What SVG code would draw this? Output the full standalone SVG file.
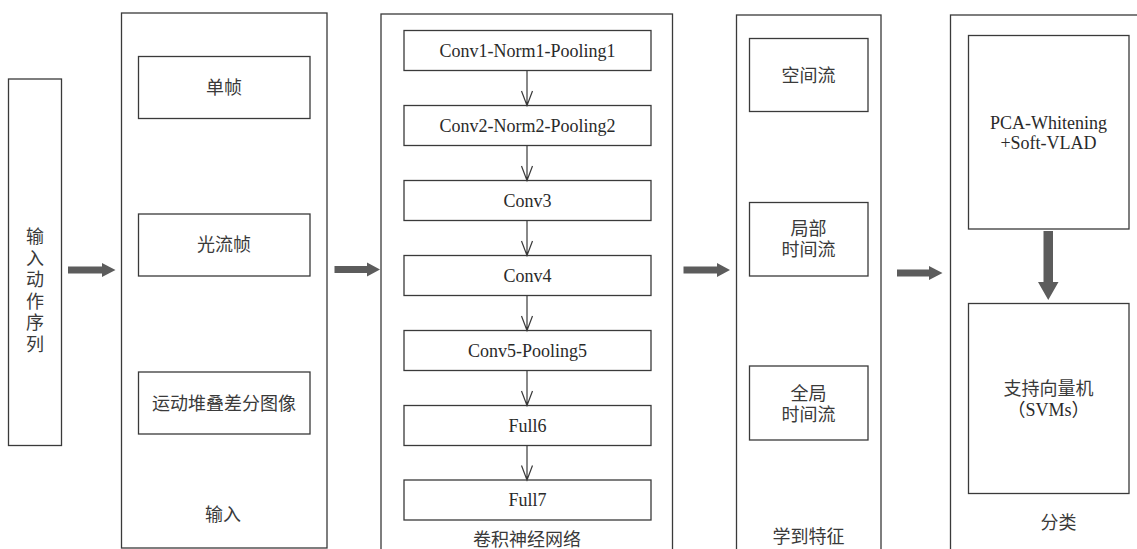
<svg xmlns="http://www.w3.org/2000/svg" width="1137" height="549" viewBox="0 0 1137 549">
<style>
.box{fill:none;stroke:#3a3a3a;stroke-width:1.3}
.t{font-family:"Liberation Serif","Noto Sans CJK SC",serif;font-size:18px;fill:#2a2a2a;text-anchor:middle;dominant-baseline:central}
.c{font-family:"Liberation Serif","Noto Sans CJK SC",serif;font-size:18px;fill:#3a3a3a;text-anchor:middle;dominant-baseline:central}
.fat{fill:#5c5c5c}
.thin{fill:none;stroke:#3a3a3a;stroke-width:1.2}
</style>
<rect width="1137" height="549" fill="#fff"/>
<g id="input-seq">
<rect class="box" x="8.5" y="79" width="53" height="366.5"/>
<text class="c" x="35"><tspan x="35" y="237">输</tspan><tspan x="35" y="258.5">入</tspan><tspan x="35" y="280">动</tspan><tspan x="35" y="301.5">作</tspan><tspan x="35" y="323">序</tspan><tspan x="35" y="344.5">列</tspan></text>
</g>
<g id="input-panel">
<rect class="box" x="121.5" y="13" width="205.5" height="535"/>
<text class="c" x="223" y="515">输入</text>
</g>
<g id="single-frame">
<rect class="box" x="138.5" y="56.5" width="171.5" height="62"/>
<text class="c" x="224" y="87.5">单帧</text>
</g>
<g id="optical-flow">
<rect class="box" x="138.5" y="214" width="171.5" height="62"/>
<text class="c" x="224" y="245">光流帧</text>
</g>
<g id="motion-diff">
<rect class="box" x="138.5" y="372" width="171.5" height="62"/>
<text class="c" x="224" y="404">运动堆叠差分图像</text>
</g>
<g id="cnn-panel">
<rect class="box" x="381" y="14" width="291.5" height="545"/>
<text class="c" x="527" y="540">卷积神经网络</text>
</g>
<g id="conv1"><rect class="box" x="404" y="30.5" width="247" height="40"/><text class="t" x="527.5" y="50.5">Conv1-Norm1-Pooling1</text></g>
<g id="conv2"><rect class="box" x="404" y="105.5" width="247" height="40"/><text class="t" x="527.5" y="125.5">Conv2-Norm2-Pooling2</text></g>
<g id="conv3"><rect class="box" x="404" y="180.5" width="247" height="40"/><text class="t" x="527.5" y="200.5">Conv3</text></g>
<g id="conv4"><rect class="box" x="404" y="255.5" width="247" height="40"/><text class="t" x="527.5" y="275.5">Conv4</text></g>
<g id="conv5"><rect class="box" x="404" y="330.5" width="247" height="40"/><text class="t" x="527.5" y="350.5">Conv5-Pooling5</text></g>
<g id="full6"><rect class="box" x="404" y="405.5" width="247" height="40"/><text class="t" x="527.5" y="425.5">Full6</text></g>
<g id="full7"><rect class="box" x="404" y="480" width="247" height="40"/><text class="t" x="527.5" y="500">Full7</text></g>
<g id="feature-panel">
<rect class="box" x="736.5" y="15" width="144.5" height="545"/>
<text class="c" x="808.5" y="537">学到特征</text>
</g>
<g id="spatial"><rect class="box" x="749.5" y="38.5" width="118.5" height="73"/><text class="c" x="808.5" y="76">空间流</text></g>
<g id="local-temporal"><rect class="box" x="749.5" y="202.5" width="118.5" height="73.5"/><text class="c" x="808.5" y="228.5">局部</text><text class="c" x="808.5" y="250">时间流</text></g>
<g id="global-temporal"><rect class="box" x="749.5" y="366" width="118.5" height="74"/><text class="c" x="808.5" y="393.5">全局</text><text class="c" x="808.5" y="415">时间流</text></g>
<g id="class-panel">
<rect class="box" x="950.5" y="15" width="200" height="545"/>
<text class="c" x="1058.5" y="523">分类</text>
</g>
<g id="pca"><rect class="box" x="968.5" y="35.5" width="160.5" height="193.5"/><text class="t" x="1048.5" y="123">PCA-Whitening</text><text class="t" x="1048.5" y="143">+Soft-VLAD</text></g>
<g id="svm"><rect class="box" x="968.5" y="303.5" width="160.5" height="190"/><text class="c" x="1048.5" y="388.5">支持向量机</text><text class="t" x="1048.5" y="409.5">（SVMs）</text></g>
<g id="connectors">
<polygon class="fat" points="68,266.5 102,266.5 102,263 115.5,270 102,277 102,273.5 68,273.5"/>
<polygon class="fat" points="334.5,266 367,266 367,262.5 380,269.5 367,276.5 367,273 334.5,273"/>
<polygon class="fat" points="683.5,266.5 717,266.5 717,263 730,270 717,277 717,273.5 683.5,273.5"/>
<polygon class="fat" points="897,269.5 929,269.5 929,266 942.5,273 929,280 929,276.5 897,276.5"/>
<polygon class="fat" points="1043.5,231 1053,231 1053,282 1058.5,282 1048.25,300 1038,282 1043.5,282"/>
<g class="thin">
<path d="M527 70.5V105.5M521.5 91L527 105.5L532.5 91"/>
<path d="M527 145.5V180.5M521.5 166L527 180.5L532.5 166"/>
<path d="M527 220.5V255.5M521.5 241L527 255.5L532.5 241"/>
<path d="M527 295.5V330.5M521.5 316L527 330.5L532.5 316"/>
<path d="M527 370.5V405.5M521.5 391L527 405.5L532.5 391"/>
<path d="M527 445.5V480M521.5 465.5L527 480L532.5 465.5"/>
</g>
</g>
</svg>
